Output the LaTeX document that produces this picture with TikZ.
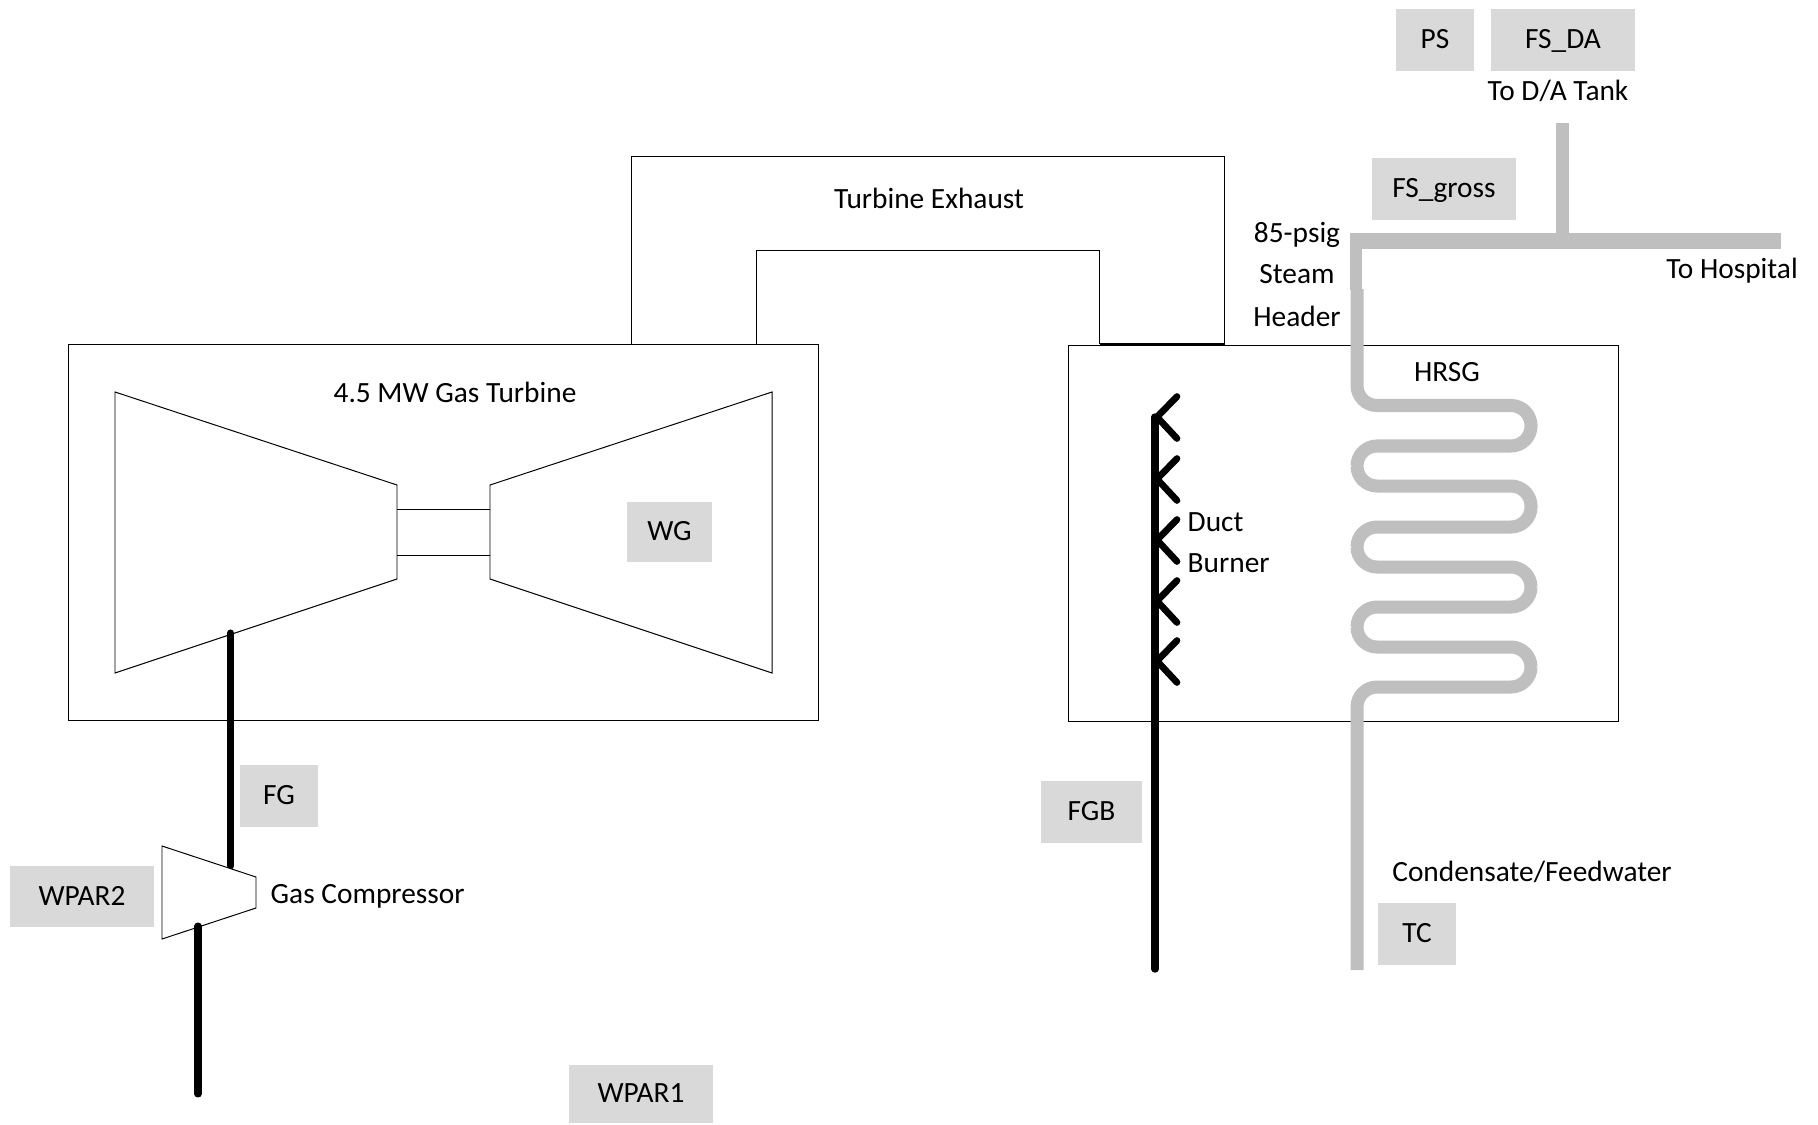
\documentclass[tikz,border=0pt]{standalone}
\usepackage{fontspec}
\setmainfont{Carlito}
\usetikzlibrary{positioning}
\definecolor{tagc}{HTML}{D9D9D9}
\definecolor{pipec}{HTML}{BFBFBF}
\tikzset{
  tag/.style={fill=tagc, inner sep=0pt, text height=1.75mm, text depth=0pt, font=\fontsize{8.35}{10}\selectfont},
  lbl/.style={inner sep=0pt, font=\fontsize{8.35}{10}\selectfont},
  vessel/.style={draw=black, line width=0.28pt},
  casing/.style={draw=black, fill=white, line width=0.28pt},
  fuel/.style={draw=black, line width=2pt, line cap=round},
  pipe/.style={draw=pipec, line width=3.7pt},
}
\begin{document}
\begin{tikzpicture}[x=0.01cm,y=-0.01cm]
  \useasboundingbox (0,0) rectangle (1818,1124);
  % turbine package and HRSG casing
  \draw[vessel] (68.5,344.5) rectangle (818.5,720.5);
  \draw[vessel] (1068.5,345.5) rectangle (1618.5,721.5);
  % exhaust duct
  \draw[vessel] (631,344) -- (631,156.5) -- (1224.5,156.5) -- (1224.5,344);
  \draw[vessel] (756,344) -- (756,250.5) -- (1099.5,250.5) -- (1099.5,344);
  \draw[draw=black, line width=0.55pt] (1099.5,344) -- (1224.5,344);
  % compressor, shaft, turbine
  \draw[casing] (115,392) -- (397,485) -- (397,579) -- (115,673) -- cycle;
  \draw[casing] (490,485) -- (772,392) -- (772,673) -- (490,579) -- cycle;
  \draw[vessel] (397,509) -- (490,509);
  \draw[vessel] (397,555.5) -- (490,555.5);
  % fuel gas
  \coordinate (fgtop) at (230.5,633);
  \coordinate (fgend) at (230.5,866);
  \draw[fuel] (fgtop) -- (fgend);
  \draw[casing] (162,846) -- (256,877) -- (256,908) -- (162,939) -- cycle;
  \coordinate (gastop) at (198,926);
  \coordinate (gasend) at (198,1094);
  \draw[fuel] (gastop) -- (gasend);
  % duct burner
  \coordinate (fgbtop) at (1155,417);
  \coordinate (fgbend) at (1155,969);
  \draw[fuel, line width=2.1pt] (fgbtop) -- (fgbend);
  \foreach \y in {417,479,540,601,661}
    \draw[fuel, line width=1.9pt] (1177,\y-20.5) -- (1157,\y) -- (1177,\y+21.5);
  % steam header and coil
  \draw[pipe, line width=4.4pt] (1350,241) -- (1781,241);
  \draw[pipe] (1562.5,123) -- (1562.5,241);
  \draw[pipe, line width=3.3pt] (1356,233) -- (1356,290);
  \draw[pipe, rounded corners=0.2cm] (1357,289) -- (1357,405.5) -- (1531,405.5) -- (1531,446)
    -- (1357,446) -- (1357,486) -- (1531,486) -- (1531,527) -- (1357,527) -- (1357,567)
    -- (1531,567) -- (1531,607) -- (1357,607) -- (1357,647) -- (1531,647) -- (1531,687)
    -- (1357,687) -- (1357,970);
  % value tags
  \foreach \x/\y/\w/\h/\n/\t in {1435/40/78/62/ps/PS, 1563/40/144/62/fsda/FS\_DA, 1444/189/144/62/fsgross/FS\_gross,
      669.5/532/85/60/wg/WG, 279/796/78/62/fg/FG, 82/896.5/144/61/wparb/WPAR2, 1091.5/812/101/62/fgb/FGB,
      1417/934/78/62/tc/TC, 641/1094/144/58/wpara/WPAR1}
    \node[tag, minimum width=\w*0.01cm, minimum height=\h*0.01cm] (\n) at (\x,\y) {\t};
  % plain labels
  \node[lbl] (exh) at (929,198) {Turbine Exhaust};
  \node[lbl] (gt) at (455,392) {4.5 MW Gas Turbine};
  \node[lbl] (hrsg) at (1447,372) {HRSG};
  \node[lbl, anchor=west] (duct) at (1187,522) {Duct};
  \node[lbl, anchor=west] (burner) at (1187,563) {Burner};
  \node[lbl] (psig) at (1297,235) {85-psig};
  \node[lbl] (steam) at (1297,274) {Steam};
  \node[lbl] (header) at (1297,316) {Header};
  \node[lbl] (hosp) at (1732,271) {To Hospital};
  \node[lbl] (datank) at (1558,91) {To D/A Tank};
  \node[lbl] (cond) at (1532,872) {Condensate/Feedwater};
  \node[lbl, anchor=west] (comp) at (270,896) {Gas Compressor};
\end{tikzpicture}
\end{document}
